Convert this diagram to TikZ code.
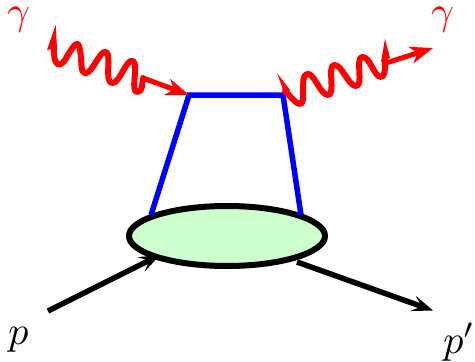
\documentclass[tikz,border=0pt]{standalone}
\usetikzlibrary{arrows.meta,shapes.geometric}
\definecolor{blobfill}{RGB}{204,255,204}
\tikzset{
  photon/.style={red,line width=6pt,line join=round,line cap=round},
  spikehead/.style={fill=red,draw=none},
  redarrow/.style={red,line width=5pt,-{Stealth[length=23pt,width=17pt,inset=7pt]}},
  quark/.style={blue,line width=5.5pt},
  proton/.style={black,line width=5.5pt,-{Stealth[length=21pt,width=16pt,inset=9pt]}},
  blobstyle/.style={ellipse,draw=black,fill=blobfill,line width=6pt,minimum width=196pt,minimum height=60pt,inner sep=0pt,outer sep=0pt},
  lab/.style={inner sep=0pt,scale=4}
}
\begin{document}
\begin{tikzpicture}[x=1pt,y=-1pt]
\useasboundingbox (0,0) rectangle (475,362);
% named points
\coordinate (lspikeb) at (54,48);
\coordinate (lstart) at (143,78);
\coordinate (v1) at (189,95);
\coordinate (v2) at (283,95);
\coordinate (rtail) at (386,63);
\coordinate (rtip) at (433,48);
\coordinate (rstart) at (285,91);
\coordinate (q1) at (151,215);
\coordinate (q2) at (301,215);
\coordinate (pin) at (48,311);
\coordinate (pinend) at (160,255);
\coordinate (pout) at (297,262);
\coordinate (poutend) at (433,310.5);
% outgoing proton below blob
\draw[proton] (pout) -- (poutend);
\node[blobstyle] (blob) at (227,236) {};
\draw[proton] (pin) -- (pinend);
% quarks
\draw[quark,line join=miter] (q1) -- (v1) -- (v2) -- (q2);
% left photon
\draw[photon] (lspikeb) .. controls (53,66) and (60,68) .. (65,60)
  .. controls (72,48) and (77,40) .. (79,46)
  .. controls (83,58) and (79,74) .. (86,73)
  .. controls (93,72) and (100,50) .. (106,52)
  .. controls (112,55) and (104,82) .. (112,83)
  .. controls (120,84) and (126,58) .. (133,61)
  .. controls (139,64) and (130,92) .. (137,92)
  .. controls (143,92) and (142,84) .. (lstart);
\fill[spikehead] (55.7,25) -- (47,50) -- (57,48) -- cycle;
\draw[redarrow] (lstart) -- (v1);
% right photon
\draw[photon] (rstart) .. controls (290,96) and (296,104) .. (300,104)
  .. controls (307,104) and (299,76) .. (307,74)
  .. controls (314,72) and (320,95) .. (328,95)
  .. controls (336,95) and (327,66) .. (334,65)
  .. controls (342,64) and (348,86) .. (356,86)
  .. controls (364,86) and (355,58) .. (362,57)
  .. controls (370,56) and (374,77) .. (381,77)
  .. controls (385,77) and (385,70) .. (385,60);
\fill[spikehead] (385,39) -- (381,62) -- (390,58) -- cycle;
\fill[spikehead] (277,73) -- (285,95) -- (290,90) -- cycle;
\draw[redarrow] (rtail) -- (rtip);
% labels
\node[lab,text=red] (g1) at (18.5,20) {$\gamma$};
\node[lab,text=red] (g2) at (442.5,20) {$\gamma$};
\node[lab] (p1) at (18.5,340) {$p$};
\node[lab] (p2) at (459,342) {$p'$};
\end{tikzpicture}
\end{document}
